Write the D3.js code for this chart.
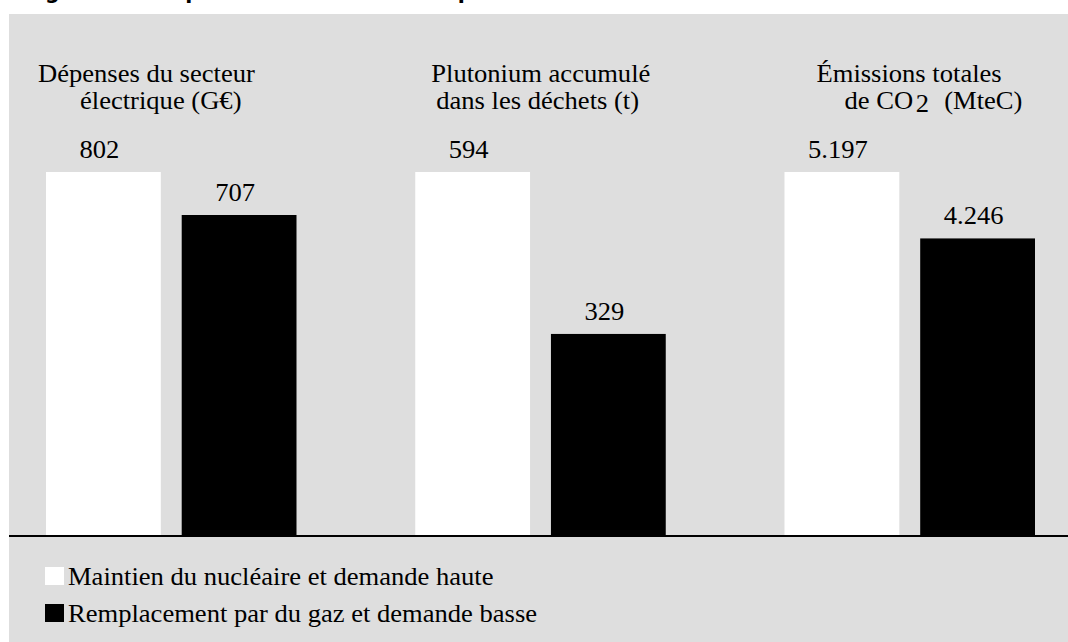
<!DOCTYPE html>
<html lang="fr">
<head>
<meta charset="utf-8">
<script src="https://cdn.jsdelivr.net/npm/d3@7"></script>
<style>
  html, body { margin: 0; padding: 0; background: #ffffff; }
  svg { display: block; }
</style>
</head>
<body>
<svg id="chart" width="1068" height="642"></svg>
<script>
// Indicateurs comparés (un groupe de deux barres par indicateur)
const indicators = ["depenses", "plutonium", "emissions"];
const indicatorTitles = [
  ["Dépenses du secteur", "électrique (G€)"],
  ["Plutonium accumulé", "dans les déchets (t)"],
  ["Émissions totales", "de CO|2|(MteC)"]
];
const scenarios = ["Maintien du nucléaire et demande haute",
                   "Remplacement par du gaz et demande basse"];
const maintienNucleaire = [802, 594, 5197];
const remplacementGaz = [707, 329, 4246];
const figureTitle = "Figure 1. Comparaison des scénarios pour la France";

const W = 1068, H = 642;
const svg = d3.select("#chart");
const serif = "'Liberation Serif', 'Times New Roman', serif";
const fontSize = 24.6;
const stretch = 1.08;

const fr = d3.formatLocale({ decimal: ",", thousands: ".", grouping: [3], currency: ["", " €"] });
const fmt = fr.format(",d");

// Titre de la figure, au-dessus du cadre gris
svg.append("text")
  .attr("x", 24).attr("y", -1.5)
  .attr("font-family", "'DejaVu Sans', Verdana, sans-serif")
  .attr("font-weight", "bold")
  .attr("font-size", 20.5)
  .attr("fill", "#000")
  .text(figureTitle);

// Fond gris
svg.append("rect")
  .attr("x", 9).attr("y", 14)
  .attr("width", W - 9).attr("height", H - 14)
  .attr("fill", "#dedede");

const baseY = 535, topY = 172;

const x0 = d3.scaleBand().domain(indicators).range([46, 1035]).paddingInner(0.3216).paddingOuter(0);
const x1 = d3.scaleBand().domain([0, 1]).range([0, x0.bandwidth()]).paddingInner(0.154).paddingOuter(0);

const rows = indicators.map((k, i) => ({
  key: k,
  values: [maintienNucleaire[i], remplacementGaz[i]],
  y: d3.scaleLinear().domain([0, Math.max(maintienNucleaire[i], remplacementGaz[i])]).range([baseY, topY])
}));
const fills = ["#ffffff", "#000000"];

function stretchedText(sel, x, y) {
  return sel.attr("transform", `translate(${x},${y}) scale(${stretch},1)`);
}

const groups = svg.selectAll("g.grp").data(rows).join("g")
  .attr("class", "grp")
  .attr("transform", d => `translate(${x0(d.key)},0)`);

groups.selectAll("rect.bar")
  .data(d => d.values.map((v, j) => ({ v, j, y: d.y })))
  .join("rect")
  .attr("class", "bar")
  .attr("x", d => x1(d.j))
  .attr("width", x1.bandwidth())
  .attr("y", d => d.y(d.v))
  .attr("height", d => baseY - d.y(d.v))
  .attr("fill", d => fills[d.j]);

// Étiquettes de valeur au-dessus des barres
groups.selectAll("text.val")
  .data(d => d.values.map((v, j) => ({ v, j, y: d.y })))
  .join("text")
  .attr("class", "val")
  .each(function (d) {
    stretchedText(d3.select(this), x1(d.j) + x1.bandwidth() / 2 - 4, d.y(d.v) - 14);
  })
  .attr("text-anchor", "middle")
  .attr("font-family", serif)
  .attr("font-size", fontSize)
  .attr("fill", "#000")
  .text(d => fmt(d.v));

// Titres des indicateurs (deux lignes, la seconde en retrait)
const titleIndent = [[-8, 34], [16, 21], [32, 60]];
const titleLineY = [82, 109];
groups.each(function (d, i) {
  const g = d3.select(this);
  indicatorTitles[i].forEach((line, li) => {
    const t = g.append("text")
      .attr("font-family", serif)
      .attr("font-size", fontSize)
      .attr("fill", "#000");
    stretchedText(t, titleIndent[i][li], titleLineY[li]);
    const parts = line.split("|");
    parts.forEach((p, pi) => {
      const ts = t.append("tspan").text(p);
      if (pi === 1) ts.attr("dx", 2.5).attr("dy", 3);   // indice du CO2
      if (pi === 2) ts.attr("dx", 14).attr("dy", -3);
    });
  });
});

// Ligne de base
svg.append("line")
  .attr("x1", 9).attr("x2", W)
  .attr("y1", baseY + 1).attr("y2", baseY + 1)
  .attr("stroke", "#000").attr("stroke-width", 2);

// Légende
const legend = svg.append("g").selectAll("g").data(scenarios).join("g")
  .attr("transform", (d, i) => `translate(45,${567 + i * 37})`);
legend.append("rect")
  .attr("width", 19).attr("height", 18)
  .attr("fill", (d, i) => fills[i]);
legend.append("text")
  .each(function () { stretchedText(d3.select(this), 23, 18); })
  .attr("font-family", serif)
  .attr("font-size", fontSize)
  .attr("fill", "#000")
  .text(d => d);
</script>
</body>
</html>
